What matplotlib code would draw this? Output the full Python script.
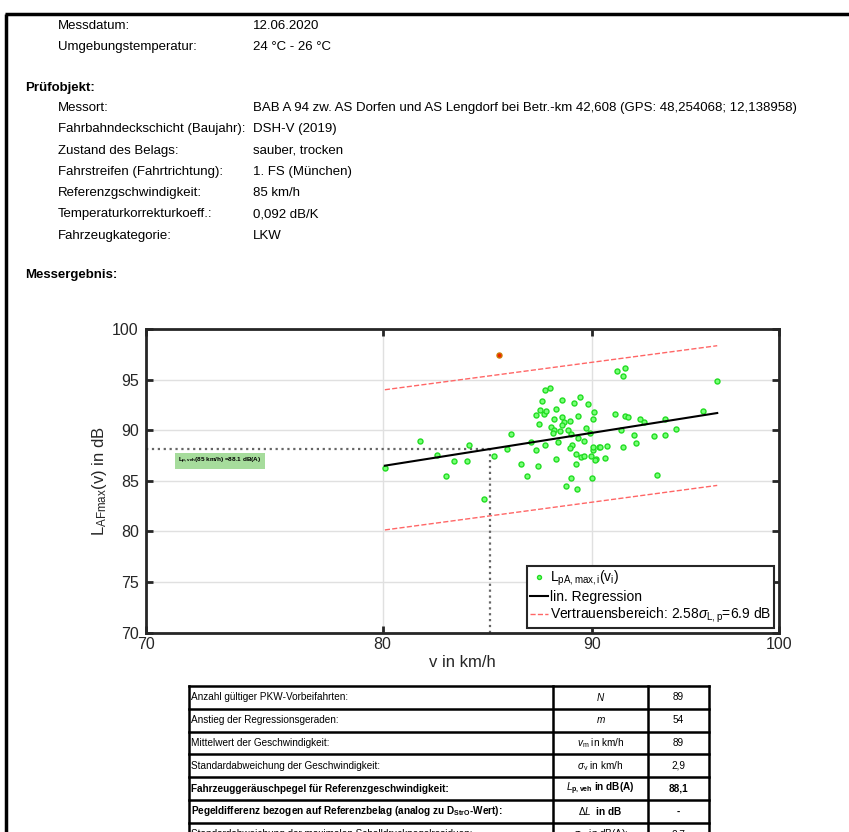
import numpy as np
import matplotlib
matplotlib.use("Agg")
import matplotlib.pyplot as plt
from matplotlib.ticker import FixedLocator, NullLocator, FixedFormatter

plt.rcParams['font.family'] = ['Liberation Sans', 'DejaVu Sans']
plt.rcParams['mathtext.fontset'] = 'custom'
plt.rcParams['mathtext.rm'] = 'Liberation Sans'
plt.rcParams['mathtext.it'] = 'Liberation Sans:italic'
plt.rcParams['mathtext.bf'] = 'Liberation Sans:bold'

# Kopfdaten
kopf_labels = ["Messdatum:", "Umgebungstemperatur:"]
kopf_werte = ["12.06.2020", "24 °C - 26 °C"]
objekt_labels = ["Messort:", "Fahrbahndeckschicht (Baujahr):", "Zustand des Belags:",
                 "Fahrstreifen (Fahrtrichtung):", "Referenzgschwindigkeit:",
                 "Temperaturkorrekturkoeff.:", "Fahrzeugkategorie:"]
objekt_werte = ["BAB A 94 zw. AS Dorfen und AS Lengdorf bei Betr.-km 42,608 (GPS: 48,254068; 12,138958)",
                "DSH-V (2019)", "sauber, trocken", "1. FS (München)", "85 km/h",
                "0,092 dB/K", "LKW"]

# Messpunkte (v in km/h, L in dB)
v_mess = [80.1, 81.7, 82.5, 82.9, 83.3, 83.9, 84.0, 84.7, 85.2, 85.8, 86.0,
          86.5, 86.8, 87.0, 87.2, 87.3, 87.65, 88.3, 88.2, 87.65, 87.9, 87.5,
          87.4, 87.2, 87.6, 87.7, 88.2, 88.5, 88.1, 88.5, 88.6, 88.5, 87.95,
          88.1, 88.05, 88.9, 88.8, 88.95, 89.1, 89.4, 89.8, 90.1, 90.05, 89.3,
          89.3, 89.6, 89.0, 88.9, 89.2, 89.45, 89.6, 89.95, 90.05, 90.05, 90.35,
          90.4, 90.8, 90.2, 90.15, 90.7, 89.2, 88.95, 90.0, 88.7, 89.25, 89.9,
          91.2, 91.3, 91.7, 91.6, 96.6, 91.7, 91.85, 92.5, 92.7, 93.8, 95.85,
          91.5, 92.2, 93.2, 93.8, 94.4, 91.6, 92.3, 93.4, 87.35, 89.7, 88.4]
L_mess = [86.3, 88.9, 87.6, 85.5, 87.0, 87.0, 88.5, 83.2, 87.5, 88.1, 89.6,
          86.7, 85.5, 88.8, 88.0, 86.5, 88.5, 88.8, 87.2, 94.0, 94.2, 92.9,
          92.0, 91.5, 91.6, 91.9, 92.1, 93.0, 91.1, 91.3, 90.8, 90.5, 90.3,
          90.0, 89.7, 90.9, 90.0, 89.6, 92.7, 93.3, 92.6, 91.8, 91.1, 91.4,
          89.2, 88.9, 88.5, 88.2, 87.7, 87.4, 87.45, 87.45, 88.0, 88.3, 88.3,
          88.35, 88.4, 87.15, 87.1, 87.25, 86.7, 85.3, 85.3, 84.5, 84.2, 89.7,
          91.6, 95.9, 96.1, 95.4, 94.9, 91.4, 91.35, 91.1, 90.8, 91.1, 91.9,
          90.05, 89.5, 89.4, 89.55, 90.1, 88.3, 88.7, 85.6, 90.6, 90.2, 89.9]
v_ausreisser = [85.4]
L_ausreisser = [97.4]

# Regression und Vertrauensbereich (Endpunkte)
v_reg = [80.1, 96.6]
L_reg = [86.5, 91.7]
L_oben = [94.0, 98.35]
L_unten = [80.15, 84.55]
v_ref = 85
L_ref = 88.1

# Tabelle
tab_text = ["Anzahl gültiger PKW-Vorbeifahrten:", "Anstieg der Regressionsgeraden:",
            "Mittelwert der Geschwindigkeit:", "Standardabweichung der Geschwindigkeit:",
            "Fahrzeuggeräuschpegel für Referenzgeschwindigkeit:",
            "Pegeldifferenz bezogen auf Referenzbelag (analog zu D$_{\\mathregular{StrO}}$-Wert):",
            "Standardabweichung der maximalen Schalldruckpegelresiduen:"]
tab_symbol = ["$\\mathbf{\\it{N}}$", "$\\it{m}$", "$\\it{v}_{\\mathregular{m}}$ in km/h",
              "$\\sigma_{\\mathregular{v}}$ in km/h", "$\\mathbf{\\it{L}}_{\\mathregular{p,veh}}$ in dB(A)",
              "$\\it{\\Delta L}$  in dB", "$\\sigma_{\\mathregular{L}}$  in dB(A):"]
tab_wert = ["89", "54", "89", "2,9", "88,1", "-", "2,7"]
tab_fett = [False, False, False, False, True, True, False]

W, H = 849, 832
fig = plt.figure(figsize=(W / 100, H / 100), dpi=100)
page = fig.add_axes([0, 0, 1, 1])
page.set_xlim(0, W)
page.set_ylim(H, 0)
page.axis('off')

# Rahmen
page.plot([5, W], [13.5, 13.5], color='black', lw=2.5, solid_capstyle='butt')
page.plot([6.5, 6.5], [13.5, H], color='black', lw=2.5, solid_capstyle='butt')

fs = 9.5
for i, (a, b) in enumerate(zip(kopf_labels, kopf_werte)):
    y = 26 + i * 21
    page.text(58, y, a, fontsize=fs, va='center')
    page.text(253, y, b, fontsize=fs, va='center')
page.text(25, 88, "Prüfobjekt:", fontsize=fs, va='center', weight='bold')
for i, (a, b) in enumerate(zip(objekt_labels, objekt_werte)):
    y = 108 + i * 21.3
    page.text(58, y, a, fontsize=fs, va='center')
    page.text(253, y, b, fontsize=fs, va='center')
page.text(25, 275, "Messergebnis:", fontsize=fs, va='center', weight='bold')

# Tabelle zeichnen
x0, x1, x2, x3 = 189, 553, 648, 709
y0, rh = 686, 22.8
n = len(tab_text)
for k in range(n + 1):
    page.plot([x0, x3], [y0 + k * rh] * 2, color='black', lw=1.8, solid_capstyle='projecting')
for xx in (x0, x1, x2, x3):
    page.plot([xx, xx], [y0, y0 + n * rh], color='black', lw=1.8)
for k in range(n):
    yc = y0 + (k + 0.5) * rh
    w = 'bold' if tab_fett[k] else 'normal'
    page.text(x0 + 2, yc, tab_text[k], fontsize=7.2, va='center', weight=w)
    page.text((x1 + x2) / 2, yc, tab_symbol[k], fontsize=7.2, va='center', ha='center', weight=w)
    page.text((x2 + x3) / 2, yc, tab_wert[k], fontsize=7.2, va='center', ha='center', weight=w)

# Diagramm
ax = fig.add_axes([145.7 / W, 1 - 632.7 / H, (778.6 - 145.7) / W, (632.7 - 329) / H])
ax.set_xscale('log')
ax.set_xlim(70, 100)
ax.set_ylim(70, 100)
ax.xaxis.set_major_locator(FixedLocator([70, 80, 90, 100]))
ax.xaxis.set_major_formatter(FixedFormatter(["70", "80", "90", "100"]))
ax.xaxis.set_minor_locator(NullLocator())
ax.set_yticks(np.arange(70, 101, 5))
ax.grid(True, color='#e0e0e0', lw=1)
ax.set_axisbelow(True)
ax.tick_params(direction='in', length=5, width=2, top=True, right=True,
               labelsize=11.5, colors='#262626')
ax.tick_params(axis='x', pad=3)
ax.tick_params(axis='y', pad=5)
for s in ax.spines.values():
    s.set_linewidth(2)
    s.set_color('#262626')

ax.plot([70, v_ref], [L_ref, L_ref], color='#666666', ls=':', lw=1.6)
ax.plot([v_ref, v_ref], [70, L_ref], color='#666666', ls=':', lw=1.6)

ax.plot(v_mess, L_mess, 'o', ms=3.6, mfc='#77ff77', mec='#22dd22', mew=1,
        label='$\\mathregular{L_{pA,max,i}(v_i)}$', zorder=3)
ax.plot(v_ausreisser, L_ausreisser, 'o', ms=3.6, mfc='#ee2200', mec='#cc7700', mew=1, zorder=3)
ax.plot(v_reg, L_reg, color='black', lw=1.5, label='lin. Regression', zorder=4)
ax.plot(v_reg, L_oben, color='#ff6666', ls='--', lw=1,
        label='Vertrauensbereich: 2.58$\\sigma_{\\mathregular{L,p}}$=6.9 dB')
ax.plot(v_reg, L_unten, color='#ff6666', ls='--', lw=1)

ax.text(71.3, 87.0, "$\\mathregular{L_{p,veh}}$(85 km/h) =88.1 dB(A)", fontsize=4.6,
        weight='bold', va='center', ha='left',
        bbox=dict(boxstyle='square,pad=0.45', fc='#a6dc9c', ec='none'))

ax.set_xlabel("v in km/h", fontsize=12, color='#262626', labelpad=2)
ax.set_ylabel("$\\mathregular{L_{AFmax}(v)}$ in dB", fontsize=12, color='#262626', labelpad=2)

leg = ax.legend(loc='lower right', fontsize=10, handlelength=1.3, handletextpad=0.1,
                borderpad=0.2, labelspacing=0.12, borderaxespad=0.35, fancybox=False,
                framealpha=1, markerscale=0.8)
leg.get_frame().set_edgecolor('#262626')
leg.get_frame().set_linewidth(1.5)

fig.savefig("out.png", dpi=100)
